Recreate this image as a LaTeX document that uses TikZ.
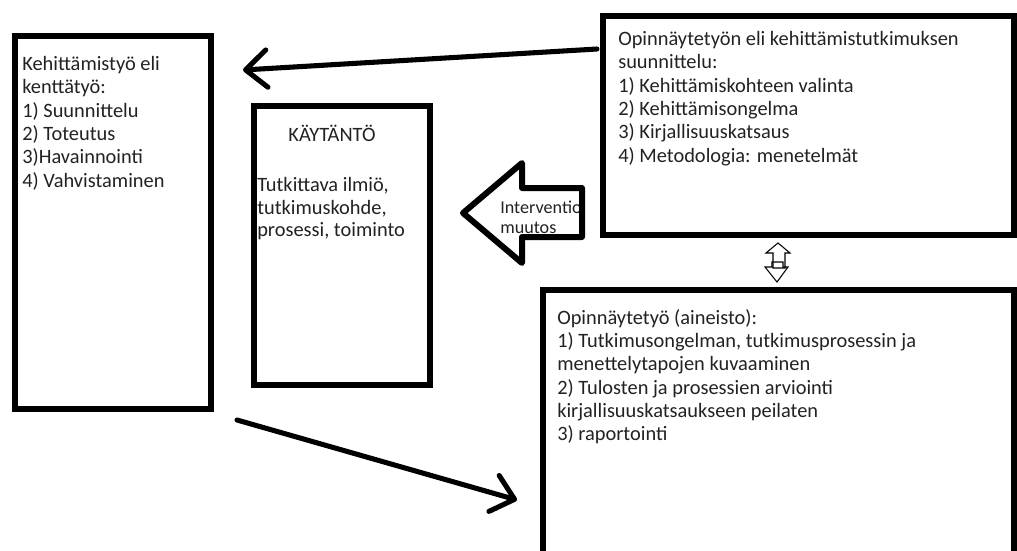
\documentclass[tikz,border=0pt]{standalone}
\usepackage{fontspec}
\setmainfont{Carlito}
\usetikzlibrary{arrows.meta,fit}
\definecolor{inkgray}{HTML}{222222}

\begin{document}
\begin{tikzpicture}[x=0.75pt,y=-0.75pt,
  frame/.style={draw, line width=4.5pt, inner sep=0pt},
  boxtext/.style={anchor=north west, align=left, inner sep=0pt, text=inkgray,
    font=\fontsize{15.3}{17.5}\selectfont},
  sketch/.style={line width=3.8pt, line cap=round,
    -{Straight Barb[length=16pt,width=28pt,round]}},
  blockarrow/.style={line width=4.5pt, line join=round},
  thinarrow/.style={line width=0.8pt, line join=miter}
]
  \fill[white] (0,0) rectangle (1017,550);
  \useasboundingbox (0,0) rectangle (1017,550);

  % boxes
  \node[frame, fit={(15,36) (211,409)}] (kentta) {};
  \node[frame, fit={(254,106) (430,385)}] (kaytanto) {};
  \node[frame, fit={(603,16) (1014,235)}] (suunnittelu) {};
  \node[frame, fit={(543,290) (1014,565)}] (aineisto) {};

  % texts
  \node[boxtext] (kenttatxt) at (22,56) {Kehittämistyö eli\\kenttätyö:\\1) Suunnittelu\\2) Toteutus\\3)Havainnointi\\4) Vahvistaminen};
  \node[boxtext, anchor=base] (kaytantotitle) at (332,141) {KÄYTÄNTÖ};
  \node[boxtext, font=\fontsize{15.3}{17}\selectfont] (kaytantotxt) at (257,177) {Tutkittava ilmiö,\\tutkimuskohde,\\prosessi, toiminto};
  \node[boxtext] (suunntxt) at (618,31) {Opinnäytetyön eli kehittämistutkimuksen\\suunnittelu:\\1) Kehittämiskohteen valinta\\2) Kehittämisongelma\\3) Kirjallisuuskatsaus\\4) Metodologia: menetelmät};
  \node[boxtext] (aineistotxt) at (557,309) {Opinnäytetyö (aineisto):\\1) Tutkimusongelman, tutkimusprosessin ja\\menettelytapojen kuvaaminen\\2) Tulosten ja prosessien arviointi\\kirjallisuuskatsaukseen peilaten\\3) raportointi};

  % intervention arrow
  \begin{scope}
    \clip (495,190) rectangle (581,240);
    \node[boxtext, font=\fontsize{13.6}{15}\selectfont] (interv) at (500,201) {Interventio\\muutos};
  \end{scope}
  \draw[blockarrow] (463,213) -- (522,163) -- (522,188) -- (582,188)
    -- (582,237) -- (522,237) -- (522,263) -- cycle;

  % hand drawn arrows
  \coordinate (s1) at (597,49);
  \coordinate (k1) at (243,70);
  \coordinate (k2) at (237,420);
  \coordinate (a1) at (517,500);
  \draw[sketch] (s1) -- (k1);
  \draw[sketch] (k2) -- (a1);

  % double arrow between the right boxes
  \draw[thinarrow] (778,243) -- (790,253) -- (785,253) -- (785,268)
    -- (773,268) -- (773,253) -- (766,253) -- cycle;
  \draw[thinarrow] (772,262) -- (783,262) -- (783,267) -- (788,267)
    -- (777,282) -- (765,267) -- (772,267) -- cycle;
\end{tikzpicture}
\end{document}
